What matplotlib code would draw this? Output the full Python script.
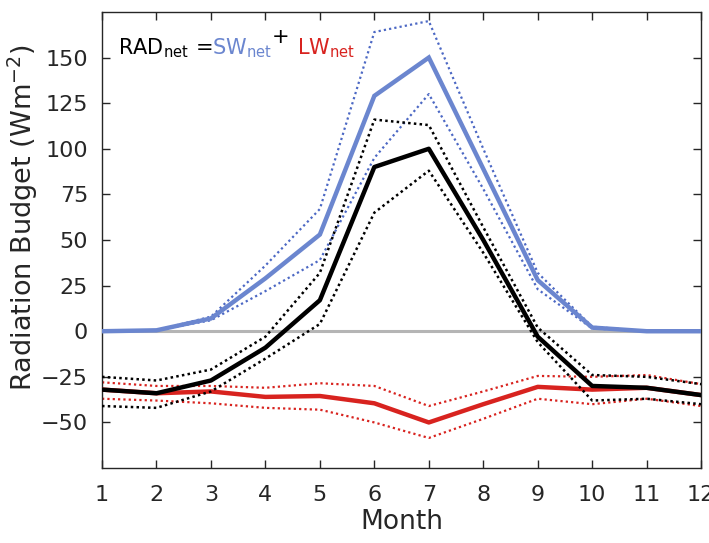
import matplotlib
matplotlib.use("Agg")
import matplotlib.pyplot as plt

months = list(range(1, 13))

sw_mean = [0, 0.5, 7, 29, 53, 129, 150, 89, 28, 2, 0, 0]
sw_upper = [0, 0.5, 8, 36, 67, 164, 170, 100, 32, 2.5, 0, 0]
sw_lower = [0, 0.5, 6, 22, 39, 95, 130, 78, 23, 1.5, 0, 0]

rad_mean = [-32, -34, -27, -9, 17, 90, 100, 50, -3, -30, -31, -35]
rad_upper = [-25, -27, -21, -3, 32, 116, 113, 57, 2, -24, -25, -29]
rad_lower = [-41, -42, -33, -15, 4, 65, 88, 43, -6, -38, -37, -40]

lw_mean = [-32, -34, -33, -36, -35.5, -39.5, -50, -40, -30.5, -32, -31, -35]
lw_upper = [-28, -30, -30, -31, -28.5, -30, -41, -33, -24.5, -25, -24, -29]
lw_lower = [-37, -38, -39.5, -42, -43, -50, -58.5, -48, -37, -40, -37, -41]

xticks = list(range(1, 13))
yticks = [-50, -25, 0, 25, 50, 75, 100, 125, 150]

blue = "#6b86cf"
blue_d = "#4c68c4"
red = "#d8231f"
black = "#000000"
axcol = "#262626"

plt.rcParams['font.family'] = ['DejaVu Sans']

fig = plt.figure(figsize=(7.09, 5.43), dpi=100)
ax = fig.add_axes([0.1439, 0.138, 0.845, 0.840])

ax.axhline(0, color="#b5b5b5", lw=2.2, zorder=1)

ax.plot(months, sw_upper, color=blue_d, lw=1.6, ls=(0, (1, 1.4)), zorder=2)
ax.plot(months, sw_lower, color=blue_d, lw=1.6, ls=(0, (1, 1.4)), zorder=2)
ax.plot(months, sw_mean, color=blue, lw=3.2, zorder=3, solid_joinstyle="miter")

ax.plot(months, lw_upper, color=red, lw=1.6, ls=(0, (1, 1.4)), zorder=2)
ax.plot(months, lw_lower, color=red, lw=1.6, ls=(0, (1, 1.4)), zorder=2)
ax.plot(months, lw_mean, color=red, lw=3.2, zorder=3)

ax.plot(months, rad_upper, color=black, lw=1.8, ls=(0, (1, 1.3)), zorder=4)
ax.plot(months, rad_lower, color=black, lw=1.8, ls=(0, (1, 1.3)), zorder=4)
ax.plot(months, rad_mean, color=black, lw=3.2, zorder=5)

ax.set_xlim(1, 12)
ax.set_ylim(-75, 175)
ax.set_xticks(xticks)
ax.set_yticks(yticks)
ax.tick_params(direction="in", length=6, width=1, top=True, right=True,
               labelsize=16, colors=axcol)
ax.tick_params(axis="x", pad=12)
ax.tick_params(axis="y", pad=10)
for s in ax.spines.values():
    s.set_color(axcol)
    s.set_linewidth(1.0)

ax.set_xlabel("Month", fontsize=19, color=axcol, labelpad=3)
ax.set_ylabel("Radiation Budget (Wm$^{\\mathregular{-2}}$)", fontsize=19.5, color=axcol)
ax.yaxis.set_label_coords(-0.104, 0.55)

ts = 15
yb = 0.908
ax.text(0.027, yb, "RAD$_{\\mathregular{net}}$", transform=ax.transAxes, fontsize=ts, color=black, va="baseline")
ax.text(0.156, yb, "=", transform=ax.transAxes, fontsize=ts, color=black, va="baseline")
ax.text(0.183, yb, "SW$_{\\mathregular{net}}$", transform=ax.transAxes, fontsize=ts, color=blue, va="baseline")
ax.text(0.284, 0.932, "+", transform=ax.transAxes, fontsize=ts, color=black, va="baseline")
ax.text(0.325, yb, "LW$_{\\mathregular{net}}$", transform=ax.transAxes, fontsize=ts, color=red, va="baseline")

fig.savefig("out.png", dpi=100)
